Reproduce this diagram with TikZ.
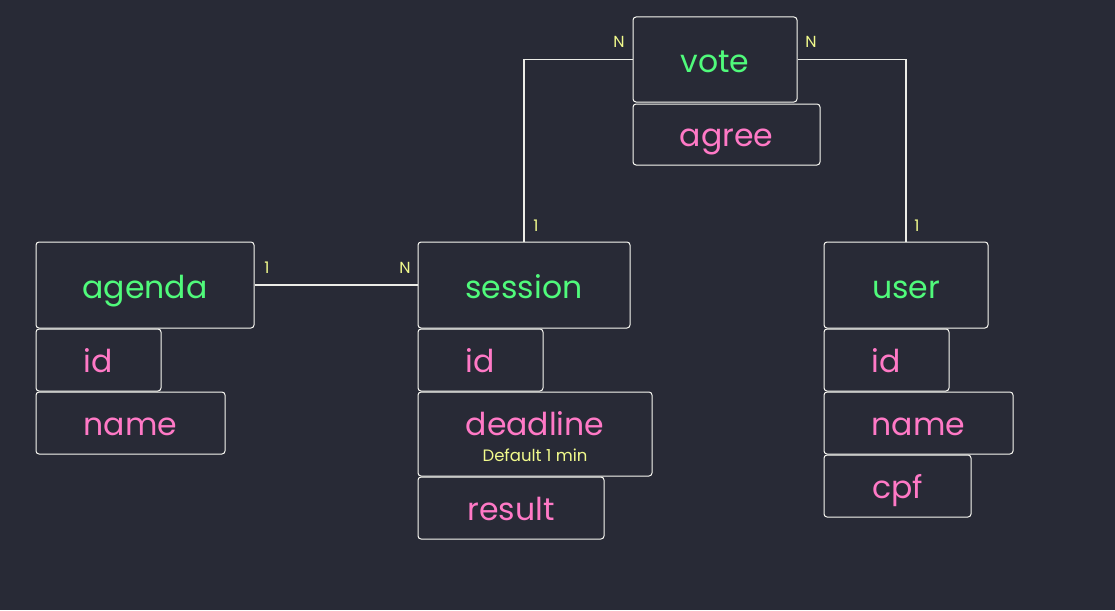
\documentclass[tikz,border=0pt]{standalone}
\usepackage{fontspec}
\setmainfont{Poppins}
\usetikzlibrary{positioning}
\definecolor{bgdark}{HTML}{282A36}
\definecolor{entgreen}{HTML}{50FA7B}
\definecolor{attpink}{HTML}{FF79C6}
\definecolor{cardyellow}{HTML}{F1FA8C}
\definecolor{edgewhite}{HTML}{F8F8F2}
\tikzset{
	erbox/.style={draw=edgewhite, line width=1pt, rounded corners=3pt, inner sep=0pt, align=center},
	entity/.style={erbox, text=entgreen, font=\fontsize{31.5}{36}\selectfont, text height=30pt, text depth=4pt},
	attrib/.style={erbox, text=attpink, font=\fontsize{31.5}{36}\selectfont, text height=29pt, text depth=5pt},
	card/.style={text=cardyellow, inner sep=0pt, font=\fontsize{16}{18}\selectfont},
	rel/.style={draw=edgewhite!90!gray, line width=1.6pt}
}
\begin{document}
\begin{tikzpicture}[x=1pt, y=-1pt]
	\fill[bgdark] (0,0) rectangle (1115,610);
	\node[entity, minimum width=164, minimum height=85] (vote)	at	(715, 59.5)	{vote};
		\node[attrib, minimum width=187, minimum height=61] (voteagree)	at	(726.5, 134.5)	{agree};
	\node[entity, minimum width=218, minimum height=86] (agenda)	at	(145, 285)	{agenda};
		\node[attrib, minimum width=125, minimum height=62] (agendaid)	at	(98.5, 360)	{id};
		\node[attrib, minimum width=189, minimum height=62] (agendaname)	at	(130.5, 423)	{name};
	\node[entity, minimum width=212, minimum height=86] (session)	at	(524, 285)	{session};
		\node[attrib, minimum width=125, minimum height=62] (sessionid)	at	(480.5, 360)	{id};
		\node[attrib, text height=20pt, text depth=18pt, minimum width=234, minimum height=84] (sessiondeadline)	at	(535, 434)	{deadline};
		\node[card, font=\fontsize{16.5}{18}\selectfont, text height=12pt, text depth=3pt] (deadlinenote)	at	(535, 457)	{Default 1 min};
		\node[attrib, minimum width=186, minimum height=62] (sessionresult)	at	(511, 508)	{result};
	\node[entity, minimum width=164, minimum height=86] (user)	at	(906, 285)	{user};
		\node[attrib, minimum width=125, minimum height=62] (userid)	at	(886.5, 360)	{id};
		\node[attrib, minimum width=189, minimum height=62] (username)	at	(918.5, 423)	{name};
		\node[attrib, minimum width=147, minimum height=62] (usercpf)	at	(897.5, 486)	{cpf};
	\draw[rel] (agenda) -- (session);
	\draw[rel] (session.north) |- (vote.west);
	\draw[rel] (vote.east) -| (user.north);
	\node[card] (agendaone)	at	(267, 268)	{1};
	\node[card] (sessionmany)	at	(405, 268)	{N};
	\node[card] (sessionone)	at	(536, 226)	{1};
	\node[card] (votemanyl)	at	(619, 42)	{N};
	\node[card] (votemanyr)	at	(811, 42)	{N};
	\node[card] (userone)	at	(917, 226)	{1};
\end{tikzpicture}
\end{document}
